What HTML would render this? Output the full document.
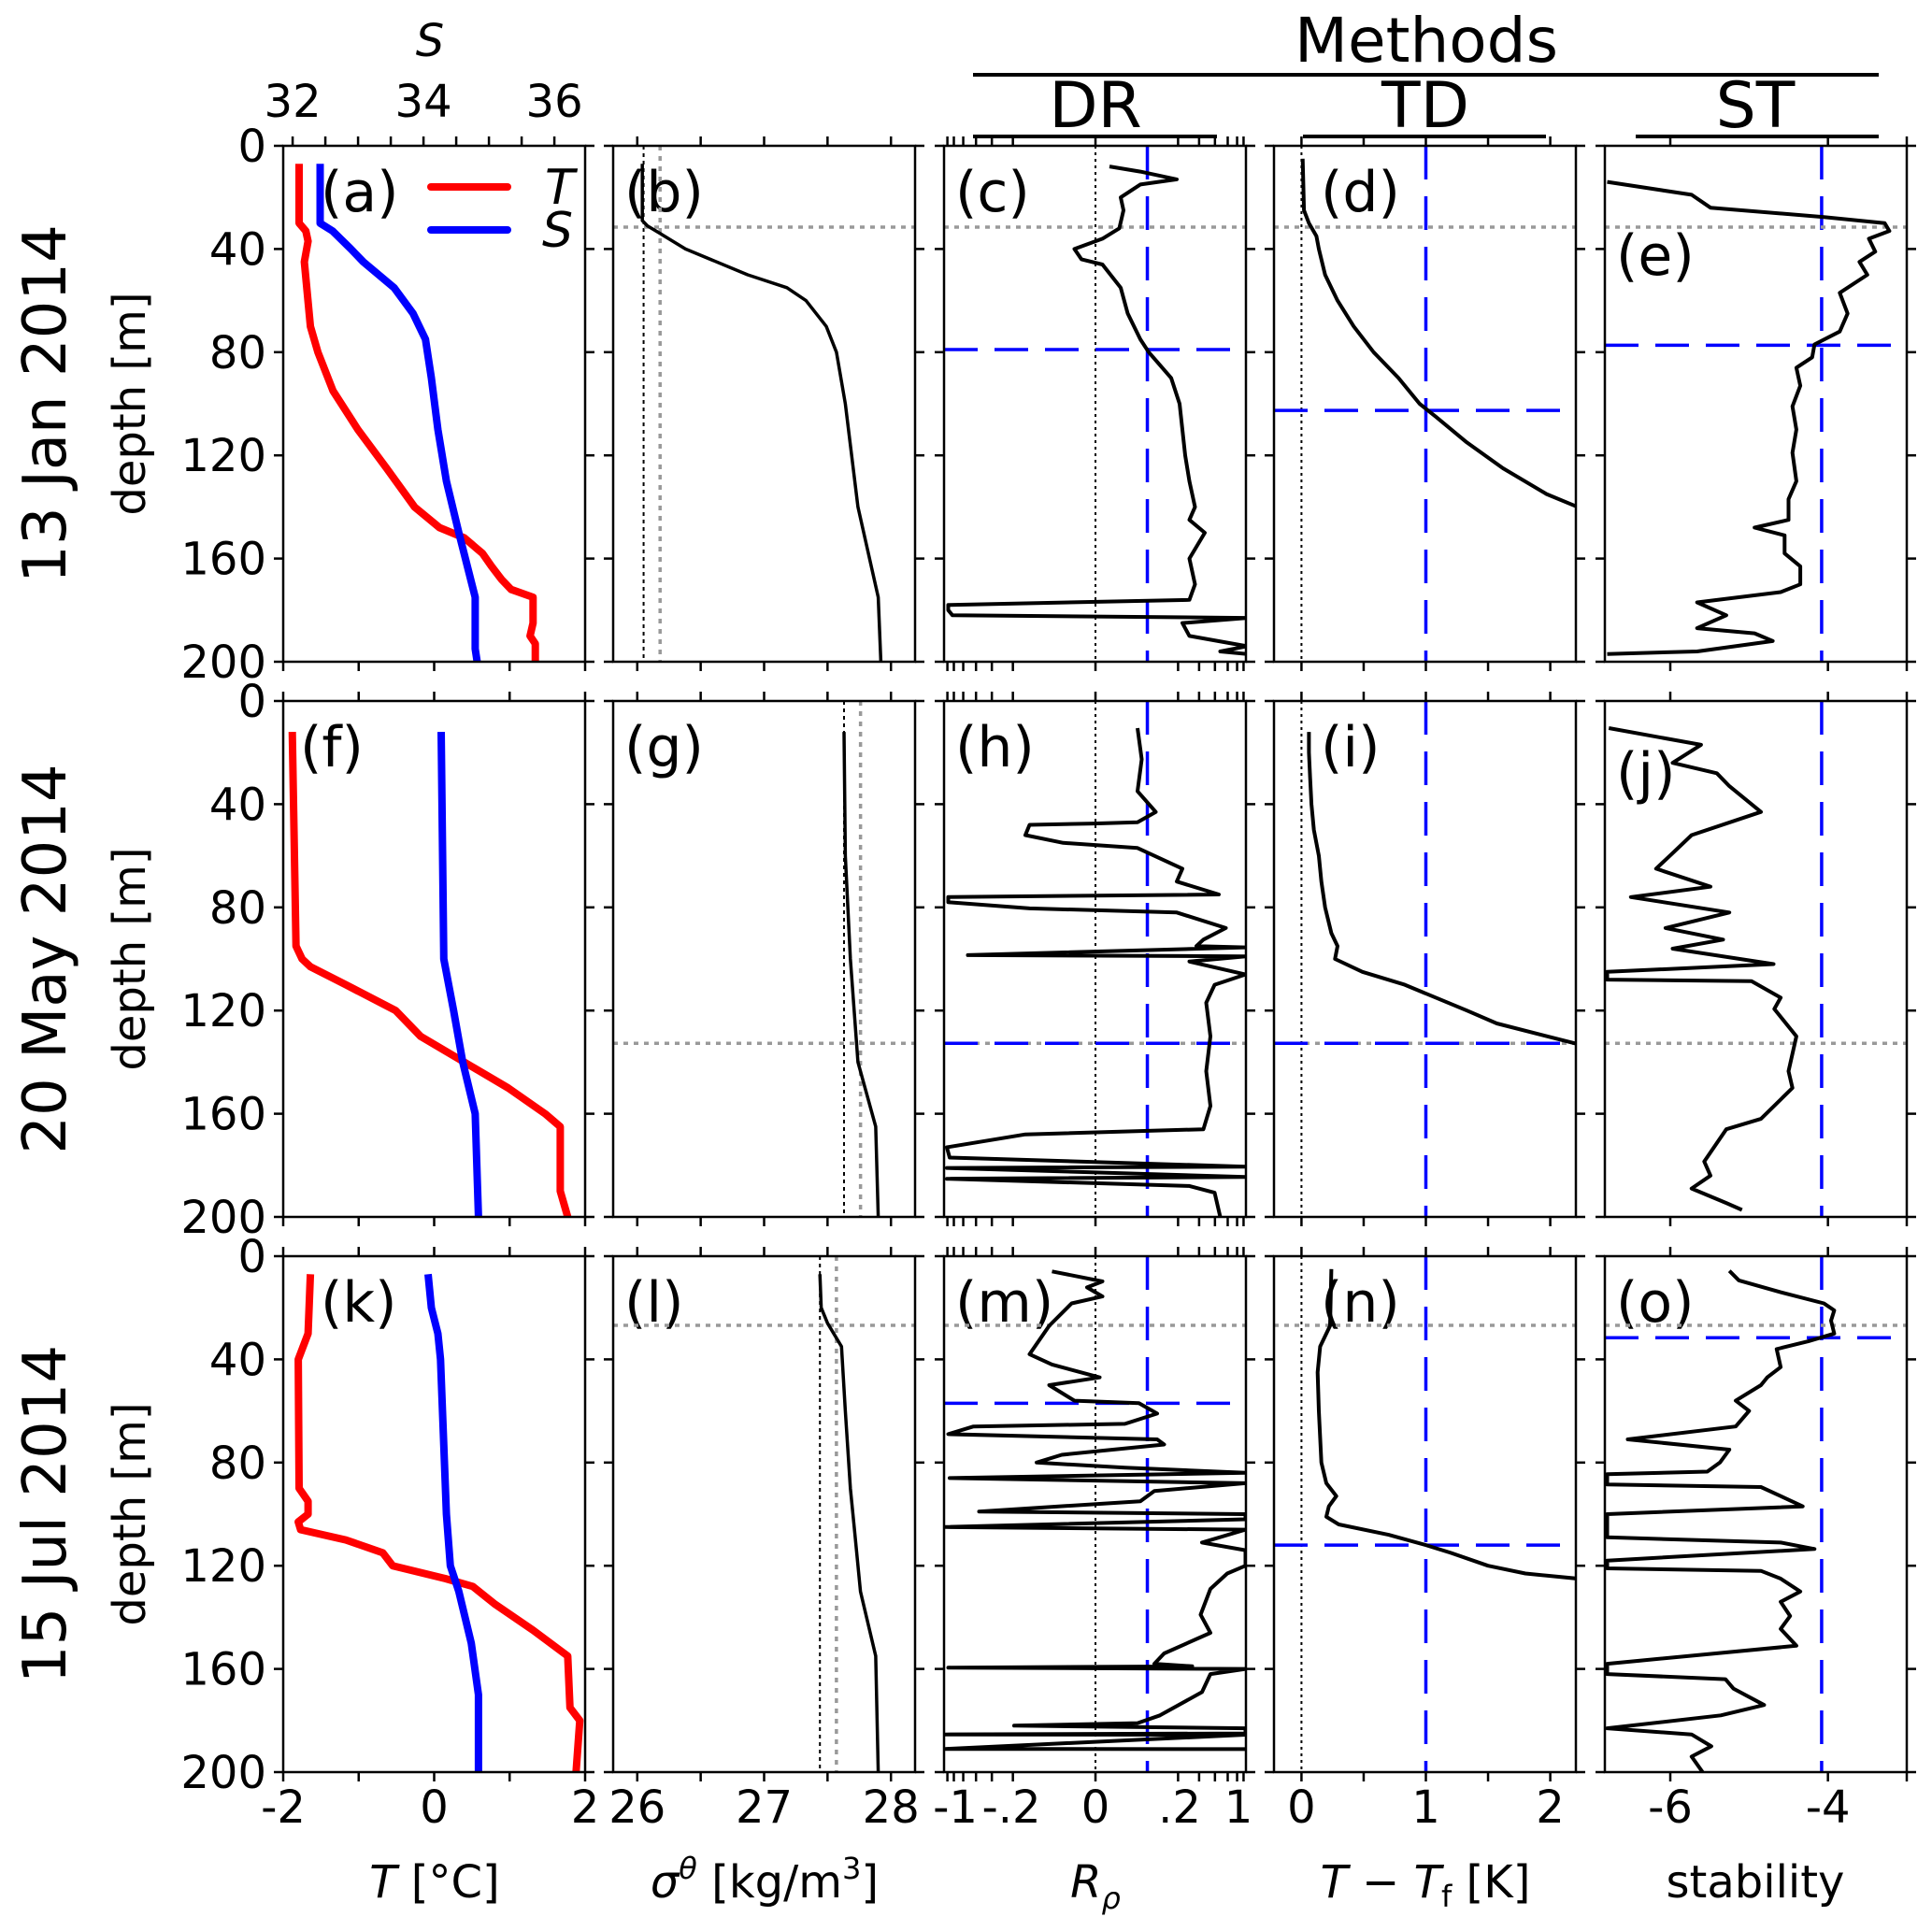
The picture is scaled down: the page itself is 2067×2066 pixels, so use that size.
<!DOCTYPE html>
<html><head><meta charset="utf-8"><style>
html,body{margin:0;padding:0;background:#fff}
svg{display:block}
text{font-family:"DejaVu Sans","Liberation Sans",sans-serif;fill:#000}
</style></head><body>
<svg id="fig" width="2067" height="2066" viewBox="0 0 2067 2066" xmlns="http://www.w3.org/2000/svg">
<g id="header">
<text x="1526" y="66" font-size="66" text-anchor="middle">Methods</text>
<line x1="1041" y1="80" x2="2010" y2="80" stroke="#000" stroke-width="4"/>
<text x="1172" y="136" font-size="68" text-anchor="middle">DR</text>
<line x1="1041" y1="146" x2="1302" y2="146" stroke="#000" stroke-width="4"/>
<text x="1525" y="136" font-size="68" text-anchor="middle">TD</text>
<line x1="1394" y1="146" x2="1654" y2="146" stroke="#000" stroke-width="4"/>
<text x="1878" y="136" font-size="68" text-anchor="middle">ST</text>
<line x1="1750" y1="146" x2="2010" y2="146" stroke="#000" stroke-width="4"/>
<text x="460" y="60" font-size="48" font-style="italic" text-anchor="middle">S</text>
</g>
</svg>
<script>
// ---- data: depth (m) / value arrays ----
const tJanDepth=[7,30,33,37,45,70,80,95,110,125,140,148,152,158,163,168,172,175,185,190,193,200];
const tJanVal=[-1.79,-1.79,-1.70,-1.67,-1.72,-1.64,-1.54,-1.34,-1.01,-0.63,-0.26,0.07,0.40,0.64,0.76,0.89,1.02,1.31,1.31,1.27,1.34,1.34];
const sJanDepth=[7,30,33,40,45,55,65,75,90,110,130,150,165,175,195,200];
const sJanVal=[32.42,32.42,32.61,32.89,33.08,33.55,33.84,34.03,34.12,34.22,34.35,34.54,34.69,34.79,34.79,34.82];
const tMayDepth=[12,95,100,103,110,120,130,140,150,160,165,190,200];
const tMayVal=[-1.88,-1.83,-1.75,-1.64,-1.17,-0.51,-0.18,0.40,0.98,1.47,1.67,1.67,1.77];
const sMayDepth=[12,100,120,140,160,200];
const sMayVal=[34.27,34.31,34.46,34.60,34.79,34.84];
const tJulDepth=[7,30,40,90,95,100,103,106,110,115,120,125,128,135,145,155,175,180,200];
const tJulVal=[-1.64,-1.67,-1.80,-1.79,-1.67,-1.67,-1.80,-1.77,-1.17,-0.68,-0.55,0.15,0.51,0.81,1.31,1.77,1.80,1.93,1.88];
const sJulDepth=[7,20,30,40,100,120,130,150,170,200];
const sJulVal=[34.07,34.12,34.22,34.26,34.35,34.41,34.54,34.73,34.84,34.84];

const rhoJanDepth=[7,29,31,34,40,50,55,60,70,80,100,140,175,200];
const rhoJanVal=[26.04,26.04,26.08,26.18,26.38,26.87,27.18,27.33,27.49,27.57,27.64,27.74,27.90,27.92];
const rhoMayDepth=[12,60,100,140,165,200];
const rhoMayVal=[27.63,27.64,27.68,27.74,27.88,27.90];
const rhoJulDepth=[7,20,26,35,60,90,105,130,155,200];
const rhoJulVal=[27.44,27.45,27.50,27.61,27.64,27.68,27.71,27.76,27.88,27.90];

const drJanDepth=[8,10,13,15,20,25,32,36,40,44,46,55,65,75,80,90,100,120,130,140,145,150,160,170,176,178,180,182,183,185,190,194,196,197];
const drJanVal=[0.10,0.32,0.58,0.32,0.18,0.20,0.17,0.05,-0.15,-0.10,0.05,0.18,0.23,0.32,0.38,0.54,0.60,0.64,0.67,0.71,0.67,0.78,0.67,0.71,0.67,-1.05,-1.05,-1.02,1.08,0.62,0.67,1.08,0.89,1.08];
const drMayDepth=[10.5,22.6,35,43,47,47.5,48,52,55,57,65,70,75,76,78,80.4,82,88,92.5,95,95.5,98.5,99,101,106,110,117,130,143.5,157,166,168,173,177,180.5,181,184.5,185.2,188,190.6,200];
const drMayVal=[0.30,0.33,0.30,0.43,0.30,-0.01,-0.47,-0.50,-0.23,0.30,0.62,0.58,0.88,-1.05,-1.05,-0.47,0.58,0.93,0.77,0.72,1.07,-0.91,1.07,0.67,1.07,0.85,0.79,0.82,0.79,0.82,0.77,-0.50,-1.06,-1.04,1.07,-1.06,1.07,-1.06,0.67,0.85,0.89];
const drJulDepth=[5.9,9.8,12.1,15.6,18.3,27,38,42,47,50,56,57,61,65,66,69,71,73,77,80,82,84,86,88,91,95,99,100,102,105,106,111,114,120,123,129,139,146,154,158,159,159.5,160,162,169,178,181,182,183,185,185.4,185.5,191,191.1];
const drJulVal=[-0.31,0.05,-0.06,0.05,-0.17,-0.33,-0.47,-0.31,0.03,-0.33,-0.15,0.31,0.44,0.21,-0.87,-1.05,0.44,0.49,-0.24,-0.42,0.21,1.07,-1.04,1.07,0.42,0.32,-0.83,1.07,1.07,-1.07,1.07,0.76,1.07,1.07,0.94,0.82,0.75,0.82,0.49,0.42,0.69,-1.05,1.07,0.82,0.76,0.46,0.30,-0.58,1.07,1.07,-1.07,1.07,-1.07,1.07];

const tdJanDepth=[5,25,30,35,40,50,60,70,80,90,100,105,115,125,135,140];
const tdJanVal=[0.01,0.02,0.06,0.12,0.14,0.19,0.29,0.42,0.58,0.78,0.95,1.08,1.33,1.62,1.97,2.22];
const tdMayDepth=[12,20,30,40,50,60,70,80,90,95,100,105,110,120,125,133];
const tdMayVal=[0.06,0.06,0.07,0.08,0.10,0.14,0.16,0.19,0.24,0.29,0.27,0.49,0.83,1.33,1.57,2.22];
const tdJulDepth=[5,27,35,45,60,80,88,93,97,101,104,108,112,115,120,123,125];
const tdJulVal=[0.24,0.23,0.15,0.13,0.14,0.16,0.20,0.28,0.22,0.20,0.30,0.70,1.00,1.20,1.50,1.80,2.22];

const stJanDepth=[14,19,24,27.6,30,33,36,41,45,50,57,65,72,77,82,86,93,101,110,119,130,137,145,148,151,158,163,170,173,177,182,187,189,192,196,197];
const stJanVal=[-6.80,-5.73,-5.49,-4.05,-3.28,-3.22,-3.48,-3.40,-3.60,-3.50,-3.85,-3.75,-3.85,-4.17,-4.20,-4.40,-4.35,-4.45,-4.40,-4.45,-4.40,-4.50,-4.50,-4.93,-4.55,-4.55,-4.35,-4.35,-4.60,-5.66,-5.29,-5.66,-4.93,-4.70,-5.66,-6.80];
const stMayDepth=[10.5,17,24,28,33,43,52,59,65,72,76,82,88,92.5,96,102,105,108,108.6,115,119.4,130,143.5,150,162,166,178.5,184,189,194.6,197.3];
const stMayVal=[-6.78,-5.61,-5.97,-5.41,-5.25,-4.85,-5.73,-5.97,-6.18,-5.49,-6.50,-5.25,-6.06,-5.33,-5.97,-4.69,-6.80,-6.80,-4.97,-4.60,-4.68,-4.40,-4.50,-4.45,-4.85,-5.29,-5.57,-5.49,-5.73,-5.29,-5.09];
const stJulDepth=[5.7,9.4,14,18.3,21,25,30,33,36,43,47,50,56,60,66,71,75,80,83.5,84.5,88.5,89.5,93,97,100,109,111,113.5,118,121,122,125,130,134,139.5,144.5,151,158,162,164,167.6,174,178,183,185.4,190,194,200];
const stJulVal=[-5.25,-5.13,-4.60,-4.05,-3.92,-3.96,-3.92,-4.25,-4.65,-4.60,-4.77,-4.85,-5.17,-5.00,-5.17,-6.54,-5.25,-5.37,-5.53,-6.80,-6.80,-4.85,-4.60,-4.32,-6.80,-6.80,-4.60,-4.17,-6.80,-6.80,-4.85,-4.60,-4.35,-4.60,-4.48,-4.60,-4.40,-6.80,-6.80,-5.30,-5.20,-4.81,-5.36,-6.80,-5.73,-5.48,-5.73,-5.59];

// reference lines
const mldGray=[31.5,132.7,26.8];
const drBlue=[79,132.7,57];
const tdBlue=[102.6,132.7,112];
const stBlue=[77.3,null,31.6];
const rhoBlackRef=[26.05,27.63,27.44];
const rhoGrayRef=[26.18,27.76,27.57];
const rowTitles=["13 Jan 2014","20 May 2014","15 Jul 2014"];
const panelLetters=[["a","b","c","d","e"],["f","g","h","i","j"],["k","l","m","n","o"]];
const depthTicks=[0,40,80,120,160,200];

// ---- layout ----
const NS="http://www.w3.org/2000/svg";
const svg=document.getElementById("fig");
const colLeft=[303,656,1010,1363,1717], W=323;
const rowTop=[156,750,1344], H=552;
const xDom=[[-2,2],[25.81,28.19],[-1.08,1.073],[-0.221,2.206],[-6.83,-3.0]];
const sDom=[31.856,36.47];
function el(tag,attrs,parent){const e=document.createElementNS(NS,tag);for(const k in attrs)e.setAttribute(k,attrs[k]);(parent||svg).appendChild(e);return e;}
function xs(c,v){const d=xDom[c];return colLeft[c]+(v-d[0])/(d[1]-d[0])*W;}
function xsS(v){return colLeft[0]+(v-sDom[0])/(sDom[1]-sDom[0])*W;}
function ys(r,d){return rowTop[r]+d/200*H;}

const defs=el("defs",{});
for(let r=0;r<3;r++)for(let c=0;c<5;c++){
  const cp=el("clipPath",{id:"cp"+r+c},defs);
  el("rect",{x:colLeft[c],y:rowTop[r],width:W,height:H},cp);
}
function series(r,c,depth,vals,color,width,name,sx){
  let d="";
  for(let i=0;i<depth.length;i++){const x=sx?sx(vals[i]):xs(c,vals[i]);d+=(i?"L":"M")+x.toFixed(1)+" "+ys(r,depth[i]).toFixed(1);}
  const p=el("path",{d:d,fill:"none",stroke:color,"stroke-width":width,"stroke-linejoin":"round","clip-path":"url(#cp"+r+c+")"});
  
  
  return p;
}
function hline(r,c,dep,color,dash,w){el("line",{x1:colLeft[c],x2:colLeft[c]+W,y1:ys(r,dep),y2:ys(r,dep),stroke:color,"stroke-width":w,"stroke-dasharray":dash});}
function vline(r,c,v,color,dash,w){el("line",{x1:xs(c,v),x2:xs(c,v),y1:rowTop[r],y2:rowTop[r]+H,stroke:color,"stroke-width":w,"stroke-dasharray":dash});}

const xTicks=[[-2,-1,0,1,2],[26,26.5,27,27.5,28],[-1.056,-1.01,-0.943,-0.852,-0.739,-0.589,0,0.589,0.739,0.852,0.943,1.01,1.056],[0,0.5,1,1.5,2],[-6,-4,-3]];
const xLabels=[[[-2,"-2"],[0,"0"],[2,"2"]],[[26,"26"],[27,"27"],[28,"28"]],[[-1.0,"-1"],[-0.6,"-.2"],[0,"0"],[0.6,".2"],[1.02,"1"]],[[0,"0"],[1,"1"],[2,"2"]],[[-6,"-6"],[-4,"-4"]]];

for(let r=0;r<3;r++){
  const cy=rowTop[r]+H/2;
  const rt=el("text",{x:0,y:0,"font-size":64,"text-anchor":"middle",transform:"translate(70,"+cy+") rotate(-90)"});
  rt.textContent=rowTitles[r];
  
  
  const yt=el("text",{x:0,y:0,"font-size":48,"text-anchor":"middle",transform:"translate(155,"+cy+") rotate(-90)"});
  yt.textContent="depth [m]";
  
  
  for(const t of depthTicks){
    const tl=el("text",{x:285,y:ys(r,t)+17,"font-size":48,"text-anchor":"end"});
    tl.textContent=t;
    
    
  }
  for(let c=0;c<5;c++){
    const L=colLeft[c],T=rowTop[r];
    for(const t of depthTicks){
      el("line",{x1:L-10,x2:L,y1:ys(r,t),y2:ys(r,t),stroke:"#000","stroke-width":2.5});
      el("line",{x1:L+W,x2:L+W+10,y1:ys(r,t),y2:ys(r,t),stroke:"#000","stroke-width":2.5});
    }
    for(const t of xTicks[c]){
      el("line",{x1:xs(c,t),x2:xs(c,t),y1:T+H,y2:T+H+10,stroke:"#000","stroke-width":2.5});
      if(!(r===0&&c===0)) el("line",{x1:xs(c,t),x2:xs(c,t),y1:T-10,y2:T,stroke:"#000","stroke-width":2.5});
    }
    let ly=T+70;
    if(c===4&&r===0) ly=T+138;
    if(c===4&&r===1) ly=T+98;
    let lxx=L+12;
    if(c===0) lxx=L+40;
    if(c===0&&r===1) lxx=L+18;
    if(c===3) lxx=L+50;
    const pl=el("text",{x:lxx,y:ly,"font-size":60});
    pl.textContent="("+panelLetters[r][c]+")";
    
    
  }
}
for(let s=32;s<=36;s+=0.5){
  el("line",{x1:xsS(s),x2:xsS(s),y1:rowTop[0]-10,y2:rowTop[0],stroke:"#000","stroke-width":2.5});
  if(s%2===0){const t=el("text",{x:xsS(s),y:125,"font-size":48,"text-anchor":"middle"});t.textContent=s;
    
    }
}
for(let c=0;c<5;c++){
  for(const [v,s] of xLabels[c]){
    const t=el("text",{x:xs(c,v),y:1950,"font-size":48,"text-anchor":"middle"});
    t.textContent=s;
    
    
  }
}
function title(x,html,name){
  const t=el("text",{x:x,y:2030,"font-size":48,"text-anchor":"middle"});
  t.innerHTML=html;
  
  
}
title(465,'<tspan font-style="italic">T</tspan> [°C]','temperature-axis-title');
title(818,'<tspan font-style="italic">σ</tspan><tspan font-style="italic" font-size="32" dy="-20">θ</tspan><tspan dy="20"> [kg/m</tspan><tspan font-size="32" dy="-20">3</tspan><tspan dy="20">]</tspan>','density-axis-title');
title(1172,'<tspan font-style="italic">R</tspan><tspan font-style="italic" font-size="32" dy="12">ρ</tspan>','density-ratio-axis-title');
title(1525,'<tspan font-style="italic">T</tspan> − <tspan font-style="italic">T</tspan><tspan font-size="32" dy="10">f</tspan><tspan dy="-10"> [K]</tspan>','thermal-driving-axis-title');
title(1878,'stability','stability-axis-title');

for(let r=0;r<3;r++){
  vline(r,1,rhoBlackRef[r],"#000","4 4",2);
  vline(r,1,rhoGrayRef[r],"#999","5 6",3.5);
  vline(r,2,0,"#000","3 4",2);
  vline(r,3,0,"#000","3 4",2);
  vline(r,2,0.37,"#00f","36 18",3.5);
  vline(r,3,1,"#00f","36 18",3.5);
  vline(r,4,-4.08,"#00f","36 18",3.5);
  for(let c=1;c<5;c++) hline(r,c,mldGray[r],"#999","5 6",3.5);
  hline(r,2,drBlue[r],"#00f","36 18",3.5);
  hline(r,3,tdBlue[r],"#00f","36 18",3.5);
  if(stBlue[r]!==null) hline(r,4,stBlue[r],"#00f","36 18",3.5);
}
const tD=[tJanDepth,tMayDepth,tJulDepth],tV=[tJanVal,tMayVal,tJulVal];
const sD=[sJanDepth,sMayDepth,sJulDepth],sV=[sJanVal,sMayVal,sJulVal];
const rD=[rhoJanDepth,rhoMayDepth,rhoJulDepth],rV=[rhoJanVal,rhoMayVal,rhoJulVal];
const dD=[drJanDepth,drMayDepth,drJulDepth],dV=[drJanVal,drMayVal,drJulVal];
const qD=[tdJanDepth,tdMayDepth,tdJulDepth],qV=[tdJanVal,tdMayVal,tdJulVal];
const eD=[stJanDepth,stMayDepth,stJulDepth],eV=[stJanVal,stMayVal,stJulVal];
for(let r=0;r<3;r++){
  series(r,0,tD[r],tV[r],"#f00",8,"temperature-line");
  series(r,0,sD[r],sV[r],"#00f",8,"salinity-line",xsS);
  series(r,1,rD[r],rV[r],"#000",3.5,"density-line");
  series(r,2,dD[r],dV[r],"#000",4,"density-ratio-line");
  series(r,3,qD[r],qV[r],"#000",4,"thermal-driving-line");
  series(r,4,eD[r],eV[r],"#000",4,"stability-line");
}
for(let r=0;r<3;r++)for(let c=0;c<5;c++){
  const f=el("rect",{x:colLeft[c],y:rowTop[r],width:W,height:H,fill:"none",stroke:"#000","stroke-width":2.5});
  
  
}
el("line",{x1:461,x2:543,y1:200,y2:200,stroke:"#f00","stroke-width":8,"stroke-linecap":"round"});
el("line",{x1:461,x2:543,y1:246,y2:246,stroke:"#00f","stroke-width":8,"stroke-linecap":"round"});
const lt=el("text",{x:583,y:218,"font-size":52,"font-style":"italic"});lt.textContent="T";


const ls=el("text",{x:580,y:264,"font-size":52,"font-style":"italic"});ls.textContent="S";


</script>
</body></html>
